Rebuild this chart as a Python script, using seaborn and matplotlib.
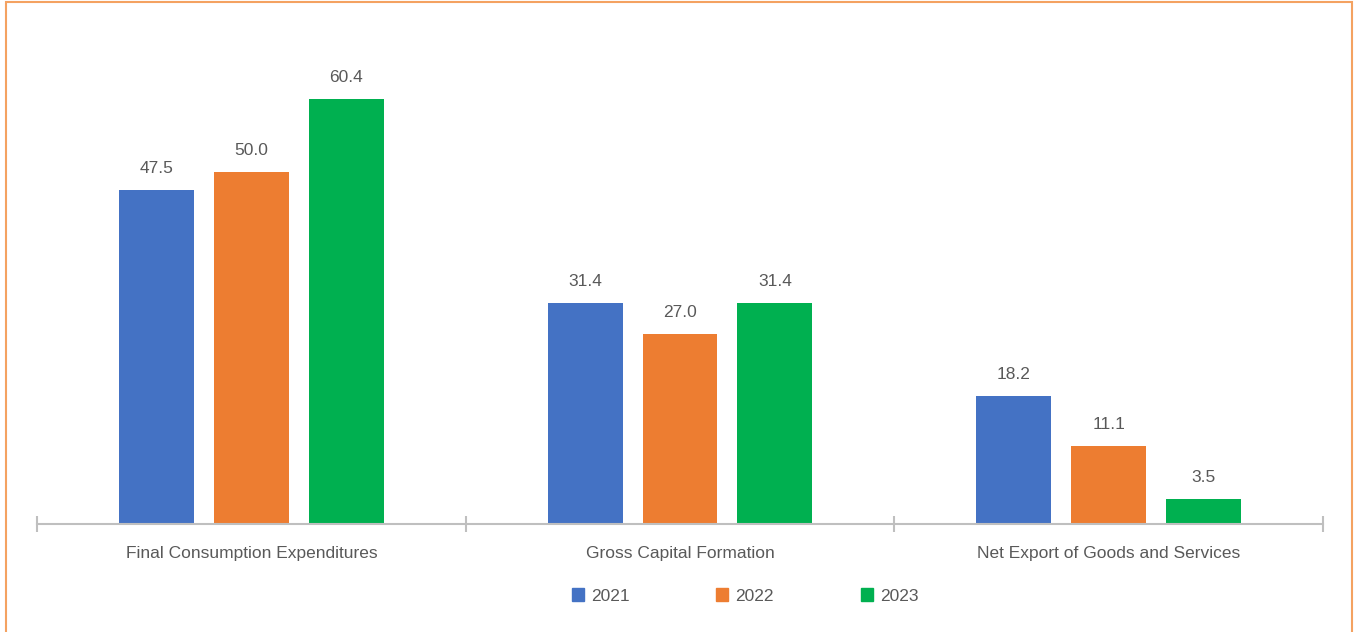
import matplotlib
matplotlib.use("Agg")
import matplotlib.pyplot as plt
from matplotlib.patches import Rectangle
import seaborn as sns
import pandas as pd

categories = ["Final Consumption Expenditures", "Gross Capital Formation",
              "Net Export of Goods and Services"]
years = ["2021", "2022", "2023"]
values_2021 = [47.5, 31.4, 18.2]
values_2022 = [50.0, 27.0, 11.1]
values_2023 = [60.4, 31.4, 3.5]
colors = ["#4472C4", "#ED7D31", "#00B050"]

df = pd.DataFrame({
    "category": categories * 3,
    "year": [y for y in years for _ in categories],
    "value": values_2021 + values_2022 + values_2023,
})

sns.set_theme(style="white")
plt.rcParams["font.family"] = ["Liberation Sans", "DejaVu Sans"]
text_color = "#595959"
fs = 12.5

W, H = 1354, 632
fig = plt.figure(figsize=(W / 100, H / 100), dpi=100)
ax = fig.add_axes([37 / W, 1 - 524 / H, (1323 - 37) / W, (524 - 60) / H])

sns.barplot(data=df, x="category", y="value", hue="year", palette=colors,
            width=0.664, gap=0.21, saturation=1, linewidth=0, ax=ax,
            legend=False)

ax.set_xlim(-0.5, 2.5)
ax.set_ylim(0, (524 - 60) / (425 / 60.4))
ax.set_xlabel("")
ax.set_ylabel("")
ax.set_yticks([])
for s in ["top", "right", "left"]:
    ax.spines[s].set_visible(False)
ax.spines["bottom"].set_color("#BFBFBF")
ax.spines["bottom"].set_linewidth(1.5)

ax.set_xticks([0, 1, 2])
ax.set_xticklabels(categories, fontsize=fs, color=text_color)
ax.tick_params(axis="x", which="major", length=0, pad=16)
ax.set_xticks([-0.5, 0.5, 1.5, 2.5], minor=True)
ax.tick_params(axis="x", which="minor", length=12, width=1.5,
               color="#BFBFBF", direction="inout", bottom=True)

for cont in ax.containers:
    ax.bar_label(cont, fmt="%.1f", padding=10, fontsize=fs, color=text_color)

handles = [Rectangle((0, 0), 1, 1, color=c) for c in colors]
fig.legend(handles, years, loc="center", bbox_to_anchor=(745 / W, 1 - 596 / H),
           ncol=3, frameon=False, fontsize=fs, labelcolor=text_color,
           handlelength=0.7, handleheight=0.7, handletextpad=0.4,
           columnspacing=5.0)

# orange frame around the figure panel (open at the bottom)
fig.add_artist(Rectangle((6 / W, -0.05), (1352 - 6) / W, 1.05 - 2.5 / H,
                         transform=fig.transFigure, fill=False,
                         edgecolor="#F4A261", linewidth=1.5))

fig.savefig("out.png", dpi=100, facecolor="white")
